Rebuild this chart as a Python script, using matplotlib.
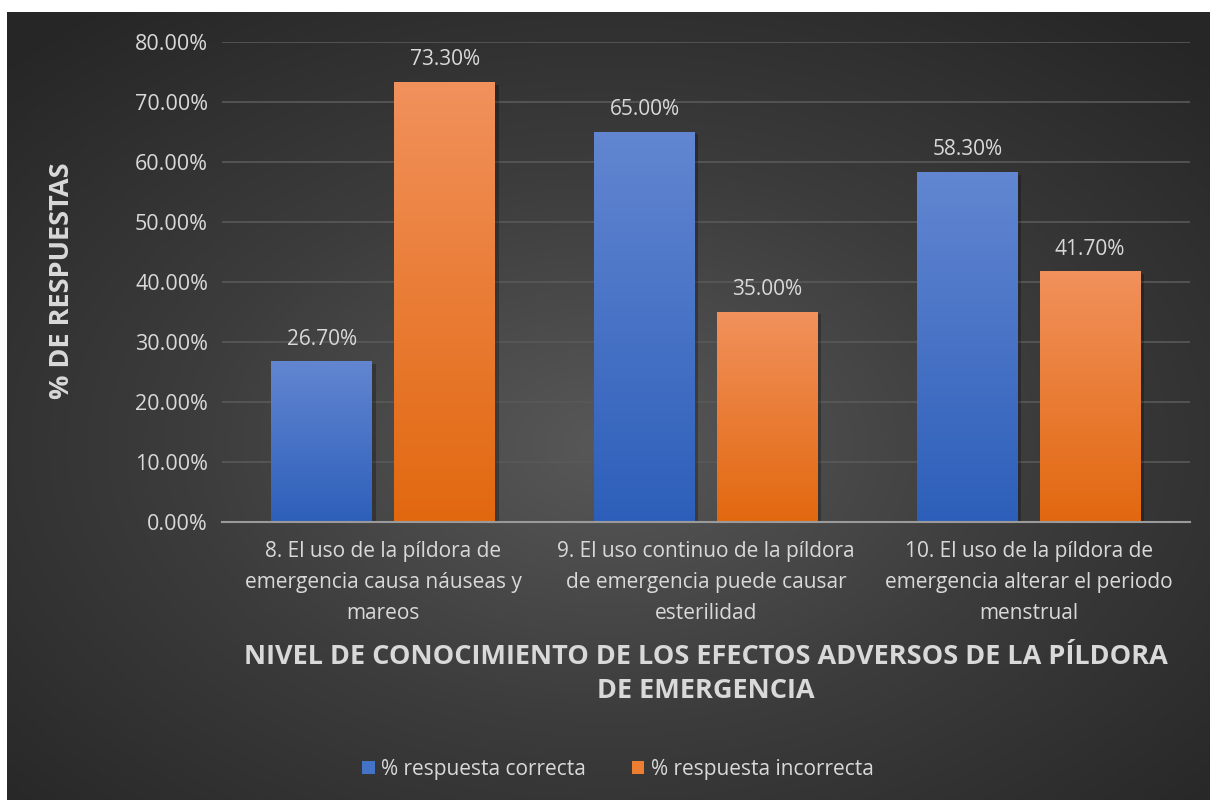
import numpy as np
import matplotlib.pyplot as plt
from matplotlib.patches import Patch
from matplotlib.colors import LinearSegmentedColormap

categories = ["8. El uso de la píldora de\nemergencia causa náuseas y\nmareos",
              "9. El uso continuo de la píldora\nde emergencia puede causar\nesterilidad",
              "10. El uso de la píldora de\nemergencia alterar el periodo\nmenstrual"]
correcta = [26.7, 65.0, 58.3]
incorrecta = [73.3, 35.0, 41.7]
series_names = ["% respuesta correcta", "% respuesta incorrecta"]
yticks = [0, 10, 20, 30, 40, 50, 60, 70, 80]

plt.rcParams['font.family'] = ['Open Sans', 'DejaVu Sans']
txt = '#d9d9d9'

fig = plt.figure(figsize=(12.1, 8), dpi=100)
fig.patch.set_facecolor('white')

# background with radial gradient
bg = fig.add_axes([7/1210, 0, 1 - 7/1210, 1 - 12/800])
bg.set_axis_off()
yy, xx = np.mgrid[0:1:400j, 0:1:600j]
r = np.sqrt(((xx - 0.5) / 0.5) ** 2 + ((yy - 0.55) / 0.5) ** 2) / np.sqrt(2)
bgmap = LinearSegmentedColormap.from_list('bg', ['#585858', '#3c3c3c', '#262626'])
bg.imshow(r, cmap=bgmap, extent=(0, 1, 0, 1), aspect='auto', vmin=0, vmax=1)

ax = fig.add_axes([222/1210, 278/800, (1190 - 222)/1210, 480/800])
ax.set_facecolor('none')
x = np.arange(len(categories))
w = 0.313
off = 0.1905
blues = LinearSegmentedColormap.from_list('b', ['#2d5fba', '#6286d1'])
oranges = LinearSegmentedColormap.from_list('o', ['#e2680f', '#f1915c'])
grad = np.linspace(0, 1, 256).reshape(-1, 1)

for vals, dx, cmap in [(correcta, -off, blues), (incorrecta, off, oranges)]:
    bars = ax.bar(x + dx, vals, w, color='none', zorder=3)
    for b, v in zip(bars, vals):
        x0, x1 = b.get_x(), b.get_x() + b.get_width()
        # soft shadow
        ax.bar(b.get_x() + b.get_width() / 2 + 0.01, v, w, bottom=-0.4,
               color='black', alpha=0.25, zorder=2, linewidth=0)
        ax.imshow(grad, cmap=cmap, origin='lower', extent=(x0, x1, 0, v),
                  aspect='auto', zorder=3)
        ax.text(b.get_x() + b.get_width() / 2, v + 2.0, f"{v:.2f}%",
                ha='center', va='bottom', color=txt, fontsize=15)

ax.set_xlim(-0.5, 2.5)
ax.set_ylim(0, 80)
ax.set_yticks(yticks)
ax.set_yticklabels([f"{t:.2f}%" for t in yticks], color=txt, fontsize=15.5)
ax.set_xticks(x)
ax.set_xticklabels(categories, color=txt, fontsize=15, linespacing=1.6)
ax.tick_params(length=0, pad=10)
ax.tick_params(axis='x', pad=14)
ax.grid(axis='y', color='#595959', linewidth=1.2, zorder=0)
for s in ['top', 'right', 'left']:
    ax.spines[s].set_visible(False)
ax.spines['bottom'].set_color('#9a9a9a')
ax.spines['bottom'].set_linewidth(1.5)
ax.spines['bottom'].set_zorder(4)

fig.text(62/1210, 1 - 281/800, "% DE RESPUESTAS", rotation=90, ha='center', va='center',
         color=txt, fontsize=19.5, fontweight='bold')
fig.text(706/1210, 1 - 674/800,
         "NIVEL DE CONOCIMIENTO DE LOS EFECTOS ADVERSOS DE LA PÍLDORA\nDE EMERGENCIA",
         ha='center', va='center', color=txt, fontsize=19.5, fontweight='bold', linespacing=1.35)

handles = [Patch(facecolor='#4472c4'), Patch(facecolor='#ed7d31')]
leg = fig.legend(handles, series_names, loc='center', bbox_to_anchor=(618/1210, 1 - 769/800),
                 ncol=2, frameon=False, fontsize=15, labelcolor=txt,
                 handlelength=0.6, handleheight=0.6, handletextpad=0.3, columnspacing=2.2)

fig.savefig('out.png', dpi=100, facecolor=fig.get_facecolor())
